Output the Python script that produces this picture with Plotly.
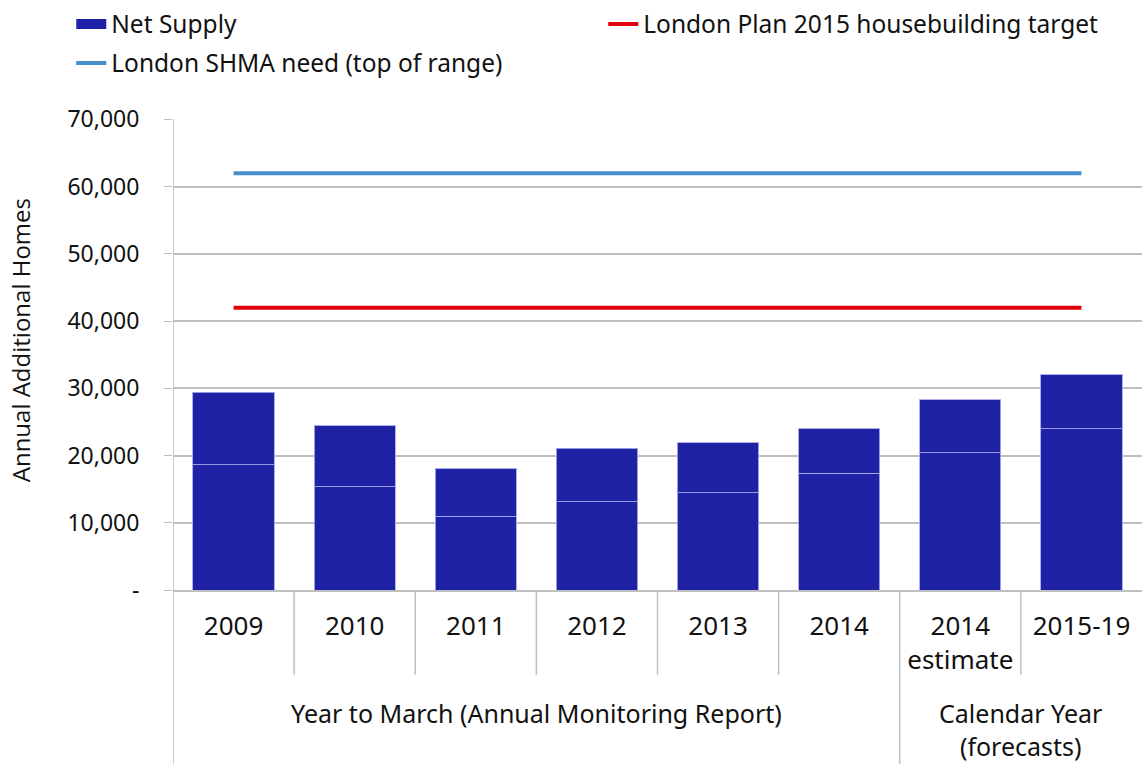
import plotly.graph_objects as go

# values
years = ["2009", "2010", "2011", "2012", "2013", "2014", "2014<br>estimate", "2015-19"]
supply_lower = [18600, 15370, 11000, 13100, 14430, 17400, 20430, 24000]
supply_upper = [10820, 9080, 7000, 7990, 7450, 6560, 7840, 7990]
london_plan_target = [42000] * len(years)
shma_need = [62000] * len(years)
y_ticks = [0, 10000, 20000, 30000, 40000, 50000, 60000, 70000]
y_ticktext = ["-", "10,000", "20,000", "30,000", "40,000", "50,000", "60,000", "70,000"]
groups = ["Year to March (Annual Monitoring Report)", "Calendar Year<br>(forecasts)"]
group_span = [(0, 5), (6, 7)]

FONT = "Noto Sans"
BAR = "rgb(31,34,165)"
GRID = "rgb(191,191,191)"
idx = list(range(len(years)))

bar_line = dict(color="rgba(165,168,235,0.9)", width=1)
trace1 = go.Bar(x=idx, y=supply_lower, name="Net Supply", width=0.67, showlegend=False,
                marker=dict(color=BAR, line=bar_line), hoverinfo="y")
trace2 = go.Bar(x=idx, y=supply_upper, name="Net Supply", width=0.67, showlegend=False,
                marker=dict(color=BAR, line=bar_line), hoverinfo="y")
# legend entry drawn as a wide block like the original
legend_bar = go.Scatter(x=[None], y=[None], mode="lines", name="Net Supply",
                        line=dict(color=BAR, width=16), legend="legend")
trace3 = go.Scatter(x=idx, y=london_plan_target, mode="lines",
                    name="London Plan 2015 housebuilding target",
                    line=dict(color="rgb(226,0,15)", width=4), legend="legend")
trace4 = go.Scatter(x=idx, y=shma_need, mode="lines",
                    name="London SHMA need (top of range)",
                    line=dict(color="rgb(70,143,204)", width=4), legend="legend2")

fig = go.Figure(data=[trace1, trace2, legend_bar, trace3, trace4])

# divider lines under the x axis
shapes = []
for b in [i + 0.5 for i in idx[:-1]]:
    full = b == 5.5
    shapes.append(dict(type="line", xref="x", yref="paper", x0=b, x1=b,
                       y0=0, y1=-0.37 if full else -0.18,
                       line=dict(color=GRID, width=1.5)))
shapes.append(dict(type="line", xref="x", yref="paper", x0=-0.5, x1=-0.5,
                   y0=1, y1=-0.37, line=dict(color=GRID, width=1.5)))

annotations = []
for g, (a, b) in zip(groups, group_span):
    annotations.append(dict(x=(a + b) / 2, y=-0.22, xref="x", yref="paper",
                            text=g, showarrow=False, yanchor="top",
                            font=dict(family=FONT, size=25, color="#111")))
# y axis title, placed a little above centre as in the original
annotations.append(dict(x=-0.158, y=0.53, xref="paper", yref="paper",
                        text="Annual Additional Homes", textangle=-90, showarrow=False,
                        xanchor="center", yanchor="middle",
                        font=dict(family="Open Sans", size=24, color="#111")))

legend_common = dict(orientation="h", xanchor="left", yanchor="middle",
                     traceorder="normal", entrywidth=487, entrywidthmode="pixels",
                     itemwidth=30, bgcolor="rgba(0,0,0,0)",
                     font=dict(family=FONT, size=24.5, color="#111"))

fig.update_layout(
    width=1144, height=764,
    margin=dict(l=173, r=2, t=119, b=174, autoexpand=False),
    plot_bgcolor="white", paper_bgcolor="white",
    barmode="stack", bargap=0.33,
    font=dict(family=FONT, size=25, color="#111"),
    showlegend=True,
    legend=dict(x=-0.105, y=1.2017, **legend_common),
    legend2=dict(x=-0.105, y=1.119, **legend_common),
    xaxis=dict(range=[-0.5, 7.5], tickvals=idx, ticktext=years, showgrid=False,
               showline=True, linecolor=GRID, linewidth=1.5, ticks="",
               ticklabelstandoff=12, tickfont=dict(family=FONT, size=26, color="#111"),
               zeroline=False),
    yaxis=dict(range=[0, 70060], tickvals=y_ticks, ticktext=y_ticktext,
               showgrid=True, gridcolor=GRID, gridwidth=1.5, zeroline=False,
               showline=False, ticks="outside", ticklen=8, tickcolor=GRID,
               ticklabelstandoff=20,
               tickfont=dict(family=FONT, size=23, color="#111")),
    shapes=shapes,
    annotations=annotations,
)

# drop the page's default body margin so the figure fills the window
fig.write_html("out.html", config={"displayModeBar": False},
               post_script="document.body.style.margin='0';")
